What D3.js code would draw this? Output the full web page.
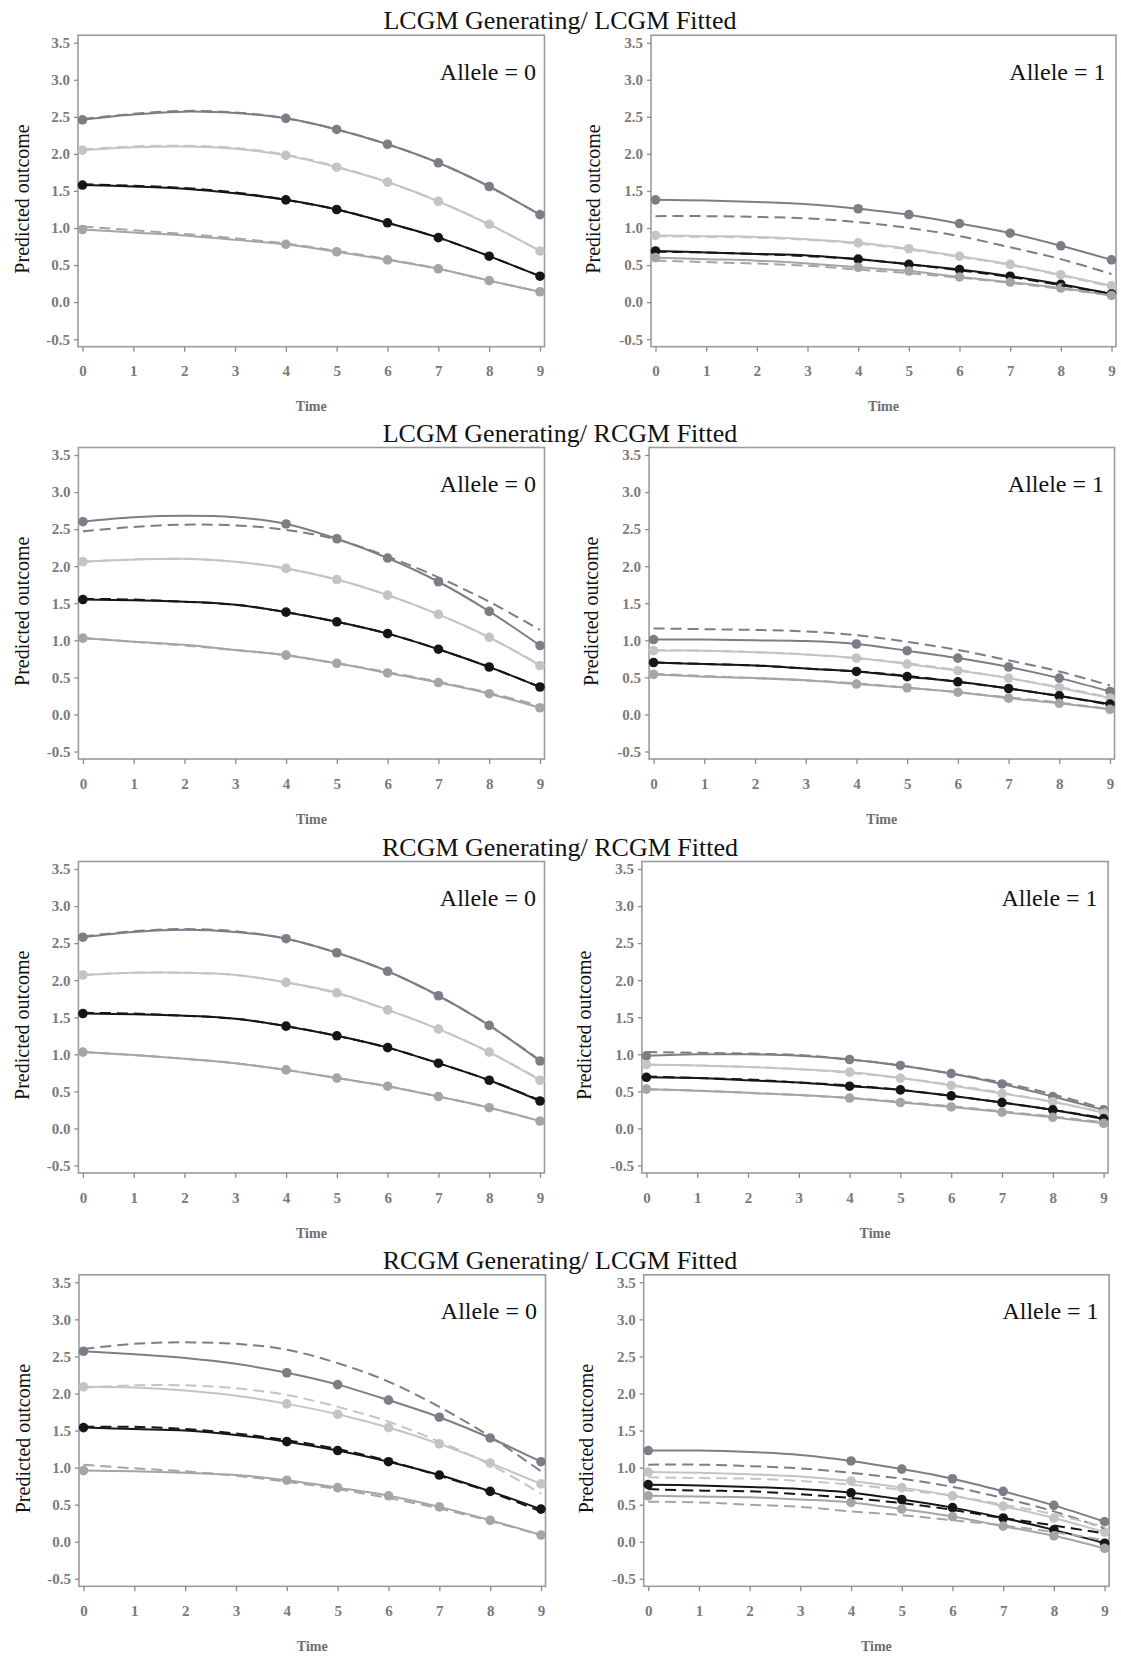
<!DOCTYPE html>
<html>
<head>
<meta charset="utf-8">
<script src="https://cdn.jsdelivr.net/npm/d3@7"></script>
<style>
  html, body { margin: 0; padding: 0; background: #ffffff; }
  svg { display: block; }
</style>
</head>
<body>
<svg id="chart" width="1121" height="1658"></svg>
<script>
// ---------------- DATA ----------------
const times = [0, 1, 2, 3, 4, 5, 6, 7, 8, 9];
const markerTimes = [0, 4, 5, 6, 7, 8, 9];
const xTicks = [0, 1, 2, 3, 4, 5, 6, 7, 8, 9];
const yTicks = [-0.5, 0, 0.5, 1.0, 1.5, 2.0, 2.5, 3.0, 3.5];
const rowTitles = [
  "LCGM Generating/ LCGM Fitted",
  "LCGM Generating/ RCGM Fitted",
  "RCGM Generating/ RCGM Fitted",
  "RCGM Generating/ LCGM Fitted"
];
const alleleLabels = ["Allele = 0", "Allele = 1"];
const xTitle = "Time";
const yTitle = "Predicted outcome";
const classes = ["Class 1", "Class 2", "Class 3", "Class 4"];

// Row 1: LCGM generating / LCGM fitted
const fitR1A0 = [
  [2.46, 2.53, 2.57, 2.55, 2.48, 2.33, 2.13, 1.88, 1.56, 1.18],
  [2.05, 2.09, 2.10, 2.07, 1.98, 1.82, 1.62, 1.36, 1.05, 0.69],
  [1.58, 1.56, 1.53, 1.47, 1.38, 1.25, 1.07, 0.87, 0.62, 0.35],
  [0.98, 0.94, 0.90, 0.84, 0.78, 0.68, 0.57, 0.45, 0.29, 0.14]
];
const genR1A0 = [
  [2.47, 2.54, 2.58, 2.56, 2.48, 2.33, 2.13, 1.88, 1.56, 1.18],
  [2.06, 2.10, 2.11, 2.08, 1.99, 1.83, 1.62, 1.36, 1.05, 0.69],
  [1.59, 1.57, 1.54, 1.48, 1.38, 1.25, 1.07, 0.87, 0.62, 0.35],
  [1.02, 0.97, 0.92, 0.86, 0.79, 0.69, 0.58, 0.45, 0.29, 0.14]
];
const fitR1A1 = [
  [1.38, 1.37, 1.35, 1.32, 1.26, 1.18, 1.06, 0.93, 0.76, 0.57],
  [0.90, 0.89, 0.88, 0.85, 0.80, 0.72, 0.62, 0.51, 0.37, 0.22],
  [0.69, 0.67, 0.65, 0.63, 0.58, 0.51, 0.44, 0.35, 0.24, 0.11],
  [0.60, 0.58, 0.56, 0.52, 0.47, 0.42, 0.34, 0.27, 0.19, 0.09]
];
const genR1A1 = [
  [1.16, 1.16, 1.15, 1.13, 1.08, 1.00, 0.89, 0.74, 0.58, 0.38],
  [0.89, 0.88, 0.87, 0.84, 0.79, 0.71, 0.61, 0.50, 0.36, 0.21],
  [0.68, 0.67, 0.65, 0.62, 0.58, 0.51, 0.43, 0.34, 0.23, 0.11],
  [0.56, 0.54, 0.52, 0.49, 0.44, 0.39, 0.33, 0.26, 0.18, 0.09]
];
// Row 2: LCGM generating / RCGM fitted
const fitR2A0 = [
  [2.60, 2.66, 2.68, 2.66, 2.57, 2.37, 2.11, 1.79, 1.39, 0.93],
  [2.06, 2.09, 2.10, 2.06, 1.97, 1.82, 1.61, 1.35, 1.04, 0.66],
  [1.55, 1.54, 1.52, 1.48, 1.38, 1.25, 1.09, 0.88, 0.64, 0.37],
  [1.03, 0.98, 0.94, 0.87, 0.80, 0.69, 0.56, 0.43, 0.28, 0.09]
];
const genR2A0 = [
  [2.47, 2.53, 2.56, 2.55, 2.49, 2.36, 2.13, 1.85, 1.52, 1.14],
  [2.06, 2.09, 2.10, 2.06, 1.97, 1.82, 1.61, 1.35, 1.04, 0.67],
  [1.56, 1.55, 1.52, 1.48, 1.38, 1.25, 1.09, 0.88, 0.64, 0.37],
  [1.03, 0.98, 0.93, 0.87, 0.80, 0.69, 0.57, 0.44, 0.29, 0.12]
];
const fitR2A1 = [
  [1.01, 1.01, 1.00, 0.99, 0.95, 0.86, 0.76, 0.64, 0.49, 0.31],
  [0.86, 0.86, 0.84, 0.81, 0.76, 0.68, 0.59, 0.49, 0.36, 0.22],
  [0.70, 0.68, 0.66, 0.62, 0.58, 0.51, 0.44, 0.35, 0.25, 0.14],
  [0.54, 0.51, 0.49, 0.46, 0.41, 0.36, 0.30, 0.22, 0.15, 0.07]
];
const genR2A1 = [
  [1.16, 1.15, 1.14, 1.12, 1.07, 0.98, 0.87, 0.73, 0.58, 0.39],
  [0.87, 0.86, 0.84, 0.81, 0.76, 0.69, 0.60, 0.49, 0.37, 0.23],
  [0.70, 0.68, 0.66, 0.62, 0.58, 0.52, 0.44, 0.35, 0.25, 0.13],
  [0.55, 0.52, 0.49, 0.46, 0.42, 0.36, 0.30, 0.23, 0.16, 0.07]
];
// Row 3: RCGM generating / RCGM fitted
const fitR3A0 = [
  [2.58, 2.65, 2.68, 2.65, 2.56, 2.37, 2.12, 1.79, 1.39, 0.91],
  [2.07, 2.10, 2.10, 2.07, 1.97, 1.83, 1.60, 1.34, 1.03, 0.65],
  [1.55, 1.54, 1.52, 1.48, 1.38, 1.25, 1.09, 0.88, 0.65, 0.37],
  [1.03, 0.99, 0.94, 0.88, 0.79, 0.68, 0.57, 0.43, 0.28, 0.10]
];
const genR3A0 = [
  [2.59, 2.66, 2.69, 2.66, 2.56, 2.37, 2.12, 1.79, 1.39, 0.92],
  [2.07, 2.10, 2.10, 2.07, 1.97, 1.82, 1.60, 1.34, 1.03, 0.66],
  [1.56, 1.55, 1.52, 1.48, 1.38, 1.25, 1.09, 0.88, 0.65, 0.38],
  [1.03, 0.99, 0.94, 0.88, 0.79, 0.68, 0.57, 0.43, 0.28, 0.10]
];
const fitR3A1 = [
  [0.98, 1.00, 1.00, 0.98, 0.93, 0.85, 0.74, 0.60, 0.43, 0.25],
  [0.86, 0.85, 0.83, 0.80, 0.76, 0.68, 0.58, 0.47, 0.36, 0.21],
  [0.69, 0.68, 0.65, 0.62, 0.57, 0.52, 0.44, 0.35, 0.25, 0.13],
  [0.53, 0.51, 0.48, 0.45, 0.41, 0.35, 0.29, 0.22, 0.15, 0.07]
];
const genR3A1 = [
  [1.03, 1.02, 1.01, 0.99, 0.93, 0.85, 0.74, 0.62, 0.46, 0.27],
  [0.86, 0.85, 0.83, 0.80, 0.75, 0.68, 0.59, 0.48, 0.36, 0.22],
  [0.70, 0.68, 0.66, 0.62, 0.58, 0.52, 0.44, 0.35, 0.25, 0.14],
  [0.53, 0.51, 0.48, 0.45, 0.41, 0.36, 0.30, 0.23, 0.16, 0.08]
];
// Row 4: RCGM generating / LCGM fitted
const fitR4A0 = [
  [2.57, 2.53, 2.48, 2.40, 2.28, 2.12, 1.91, 1.68, 1.40, 1.08],
  [2.09, 2.08, 2.04, 1.97, 1.86, 1.72, 1.54, 1.32, 1.06, 0.78],
  [1.54, 1.52, 1.50, 1.44, 1.35, 1.23, 1.08, 0.90, 0.68, 0.44],
  [0.96, 0.95, 0.93, 0.90, 0.83, 0.73, 0.62, 0.47, 0.29, 0.09]
];
const genR4A0 = [
  [2.60, 2.67, 2.69, 2.67, 2.59, 2.41, 2.16, 1.82, 1.42, 0.95],
  [2.08, 2.11, 2.11, 2.07, 1.98, 1.82, 1.62, 1.35, 1.04, 0.65],
  [1.55, 1.55, 1.52, 1.46, 1.37, 1.25, 1.09, 0.89, 0.67, 0.41],
  [1.04, 0.99, 0.95, 0.89, 0.81, 0.71, 0.59, 0.45, 0.28, 0.09]
];
const fitR4A1 = [
  [1.23, 1.23, 1.21, 1.17, 1.09, 0.98, 0.85, 0.68, 0.49, 0.27],
  [0.94, 0.93, 0.91, 0.88, 0.82, 0.73, 0.62, 0.48, 0.32, 0.13],
  [0.77, 0.76, 0.74, 0.71, 0.66, 0.57, 0.46, 0.32, 0.16, -0.02],
  [0.62, 0.61, 0.60, 0.57, 0.53, 0.44, 0.34, 0.21, 0.08, -0.09]
];
const genR4A1 = [
  [1.04, 1.04, 1.02, 0.99, 0.93, 0.85, 0.74, 0.59, 0.41, 0.18],
  [0.87, 0.86, 0.85, 0.82, 0.77, 0.70, 0.62, 0.50, 0.37, 0.20],
  [0.71, 0.69, 0.68, 0.64, 0.59, 0.52, 0.43, 0.32, 0.22, 0.11],
  [0.54, 0.53, 0.50, 0.47, 0.41, 0.36, 0.29, 0.22, 0.13, 0.02]
];

// ---------------- STYLE / LAYOUT ----------------
const classColors = ["#7d7d87", "#c4c4c4", "#161616", "#a4a4aa"];
const rowY35 = [42.7, 455, 869, 1282.3];   // pixel of y = 3.5 per row
const ySpan = 296.5;                        // 3.5 -> -0.5
const colX = [
  [[82.5, 540], [655.5, 1111.5]],
  [[82.9, 540], [653.6, 1110]],
  [[82.9, 540], [646.4, 1103.6]],
  [[83.5, 541], [648.2, 1104.6]]
];
const serif = "'Liberation Serif', 'Times New Roman', serif";

const panels = [
  [[fitR1A0, genR1A0], [fitR1A1, genR1A1]],
  [[fitR2A0, genR2A0], [fitR2A1, genR2A1]],
  [[fitR3A0, genR3A0], [fitR3A1, genR3A1]],
  [[fitR4A0, genR4A0], [fitR4A1, genR4A1]]
];

const svg = d3.select("#chart");
svg.append("rect").attr("width", 1121).attr("height", 1658).attr("fill", "#fff");

rowTitles.forEach((title, r) => {
  svg.append("text")
    .attr("x", 560).attr("y", rowY35[r] - 22)
    .attr("text-anchor", "middle").attr("dominant-baseline", "central")
    .style("font-family", serif).style("font-size", "26px").attr("fill", "#111")
    .text(title);

  [0, 1].forEach(c => {
    const [x0, x9] = colX[r][c];
    const x = d3.scaleLinear().domain([0, 9]).range([x0, x9]);
    const y = d3.scaleLinear().domain([-0.5, 3.5]).range([rowY35[r] + ySpan, rowY35[r]]);
    const left = x(0) - 4.5, right = x(9) + 4.5;
    const top = y(3.5) - 7.5, bottom = y(-0.5) + 7.5;
    const g = svg.append("g");

    // frame
    g.append("rect")
      .attr("x", left).attr("y", top)
      .attr("width", right - left).attr("height", bottom - top)
      .attr("fill", "none").attr("stroke", "#9c9c9c").attr("stroke-width", 1.6);

    // axes
    const yAxis = d3.axisLeft(y).tickValues(yTicks).tickSize(4).tickPadding(4)
      .tickFormat(d => d.toFixed(1));
    const ya = g.append("g").attr("transform", `translate(${left},0)`).call(yAxis);
    const xAxis = d3.axisBottom(x).tickValues(xTicks).tickSize(5).tickPadding(14)
      .tickFormat(d => String(d));
    const xa = g.append("g").attr("transform", `translate(0,${bottom})`).call(xAxis);
    [ya, xa].forEach(a => {
      a.select(".domain").remove();
      a.selectAll(".tick line").attr("stroke", "#8c8c8c").attr("stroke-width", 1.3);
      a.selectAll(".tick text")
        .style("font-family", serif).style("font-size", "15px")
        .style("font-weight", "bold").attr("fill", "#7a7a7a");
    });

    // axis titles
    g.append("text")
      .attr("x", (x(0) + x(9)) / 2).attr("y", bottom + 60)
      .attr("text-anchor", "middle").attr("dominant-baseline", "central")
      .style("font-family", serif).style("font-size", "14px").style("font-weight", "bold")
      .attr("fill", "#6e6e6e").text(xTitle);
    const yl = c === 0 ? left - 56 : left - 58;
    g.append("text")
      .attr("transform", `translate(${yl},${(y(3.5) + y(-0.5)) / 2 + 8}) rotate(-90)`)
      .attr("text-anchor", "middle").attr("dominant-baseline", "central")
      .style("font-family", serif).style("font-size", "20px")
      .attr("fill", "#111").text(yTitle);

    // allele label
    g.append("text")
      .attr("x", x(9) - (c === 0 ? 4 : 6)).attr("y", y(3.5) + 29)
      .attr("text-anchor", "end").attr("dominant-baseline", "central")
      .style("font-family", serif).style("font-size", "24px")
      .attr("fill", "#111").text(alleleLabels[c]);

    const [fit, gen] = panels[r][c];
    const line = d3.line()
      .x(d => x(d.t)).y(d => y(d.v))
      .curve(d3.curveCatmullRom.alpha(0.5));

    // fitted (solid with markers)
    fit.forEach((vals, k) => {
      const pts = times.map((t, i) => ({ t, v: vals[i] }));
      g.append("path").datum(pts)
        .attr("d", line).attr("fill", "none")
        .attr("stroke", classColors[k]).attr("stroke-width", 2);
      g.selectAll(null)
        .data(pts.filter(p => markerTimes.includes(p.t)))
        .enter().append("circle")
        .attr("cx", d => x(d.t)).attr("cy", d => y(d.v)).attr("r", 4.8)
        .attr("fill", classColors[k]);
    });
    // generating (dashed)
    gen.forEach((vals, k) => {
      const pts = times.map((t, i) => ({ t, v: vals[i] }));
      g.append("path").datum(pts)
        .attr("d", line).attr("fill", "none")
        .attr("stroke", classColors[k]).attr("stroke-width", 2)
        .attr("stroke-dasharray", "11,6");
    });
  });
});
</script>
</body>
</html>
